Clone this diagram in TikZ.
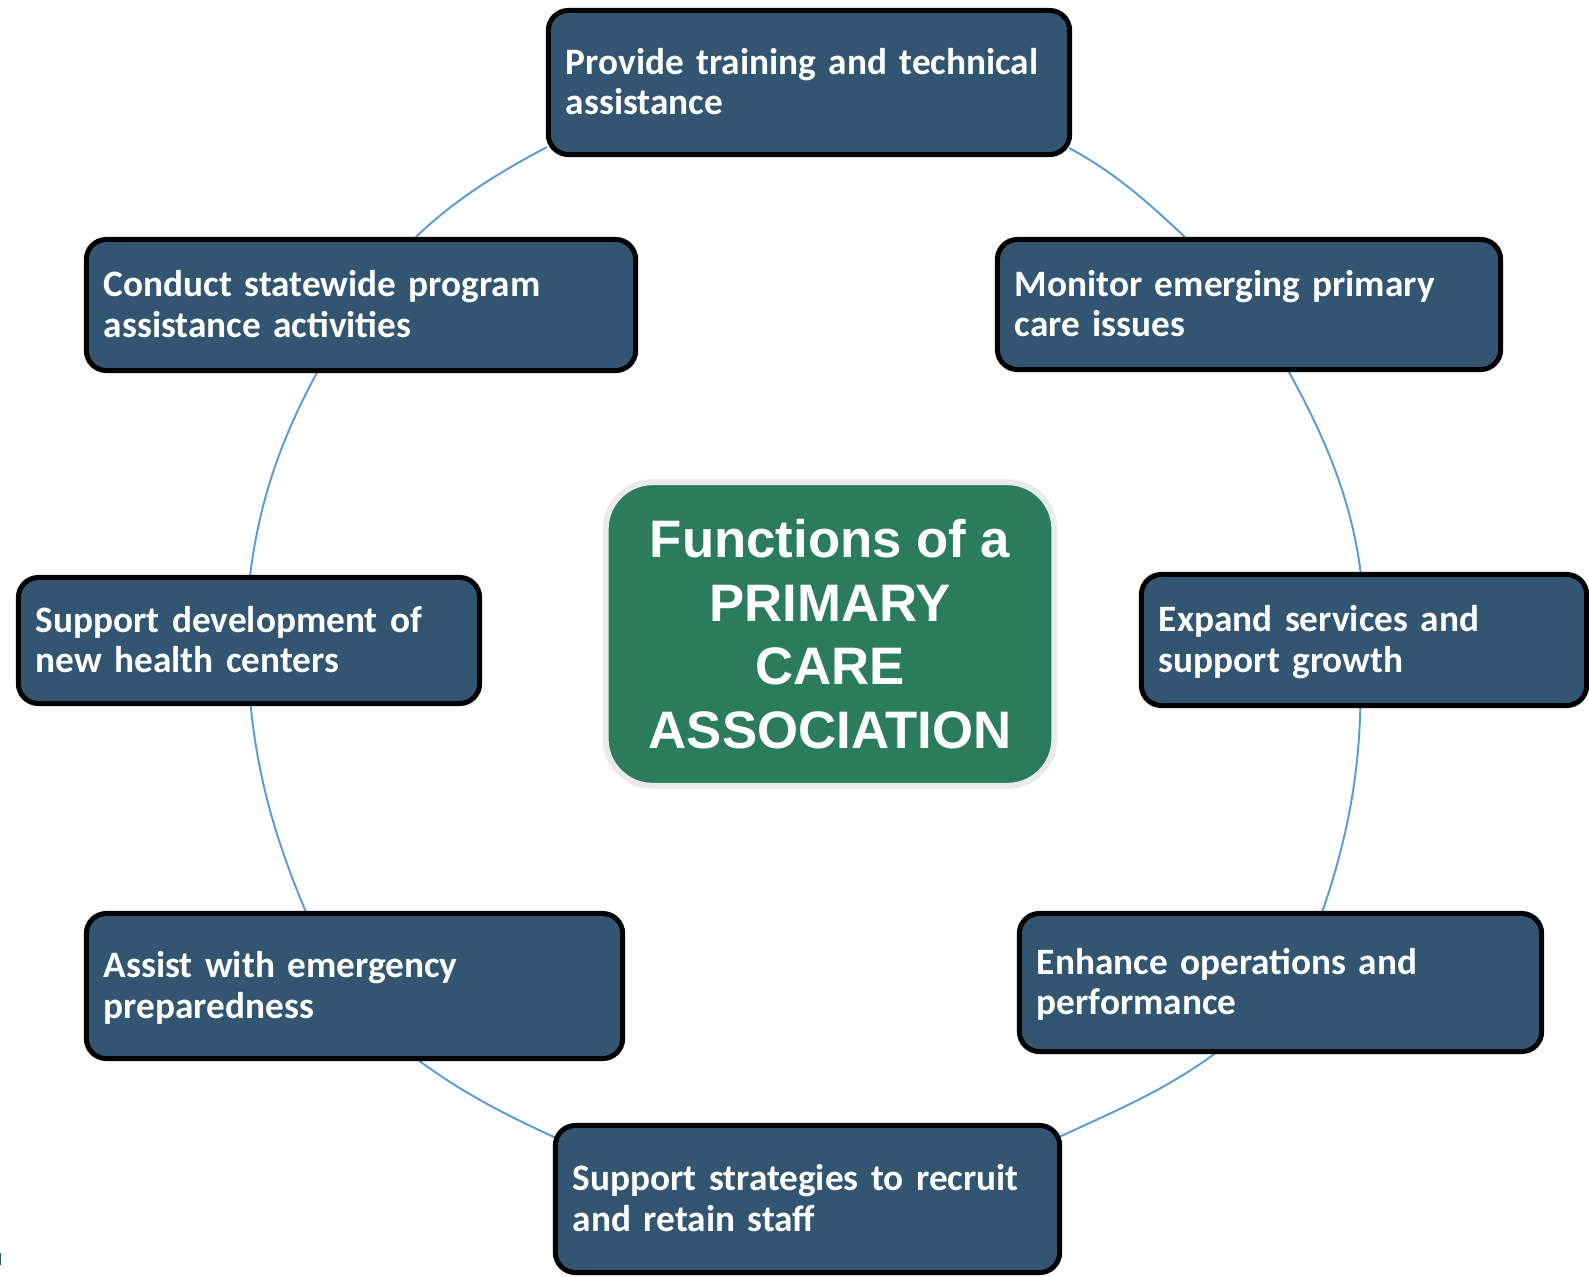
\documentclass[tikz,border=0pt]{standalone}
\usepackage{fontspec}
\setmainfont{Carlito}
\newfontfamily\boxfam{Carlito}
\newfontfamily\ctrfont{Liberation Sans}
\usetikzlibrary{calc}
\definecolor{boxblue}{HTML}{325672}
\definecolor{ctrgreen}{HTML}{2B7C5E}
\definecolor{ringblue}{HTML}{5B9BD5}
\definecolor{ctredge}{HTML}{EAEAEA}
\pgfdeclarelayer{bg}
\pgfsetlayers{bg,main}
\newcommand\boxfont{\boxfam\bfseries\fontsize{10.6}{11.4}\selectfont\spaceskip=0.19em plus 0.05em minus 0.05em\relax}
\newcommand\ctrtext{\ctrfont\bfseries\fontsize{15}{18.1}\selectfont}
\newcommand\bxtop{\rule{0pt}{9pt}}
\newcommand\bxbot{\rule[-2.2pt]{0pt}{2.2pt}}
\begin{document}
\begin{tikzpicture}[x=0.01cm,y=-0.01cm,
  fnbox/.style n args={3}{draw=black, line width=0.05cm, fill=boxblue,
    rounded corners=0.2cm, text=white, font=\boxfont, align=left,
    inner xsep=0.175cm, inner ysep=0pt, minimum width=#1cm,
    minimum height=#2cm, text width=#3cm,
    execute at begin node=\bxtop, execute at end node=\bxbot},
  ctrbox/.style={draw=ctredge, line width=0.06cm, fill=ctrgreen,
    rounded corners=0.47cm, text=white, font=\ctrtext, align=center,
    inner sep=0pt, minimum width=4.485cm, minimum height=3.035cm,
    execute at begin node=\rule{0pt}{12.2pt}},
  ringline/.style={draw=ringblue, line width=0.55pt, looseness=0.9}]
\useasboundingbox (0,0) rectangle (1589,1276);
\clip (0,0) rectangle (1589,1276);

\node[ctrbox] (pca) at (830,634) {Functions of a\\PRIMARY\\CARE\\ASSOCIATION};

\node[fnbox={5.21}{1.44}{4.86}] (top) at (809,82.5) {Provide training and technical\\assistance};
\node[fnbox={5.49}{1.31}{5.14}] (conduct) at (361,305) {Conduct statewide program\\assistance activities};
\node[fnbox={5.03}{1.30}{4.68}] (monitor) at (1249,304.5) {Monitor emerging primary\\care issues};
\node[fnbox={4.61}{1.26}{4.26}] (newhc) at (249,640.5) {Support development of\\new health centers};
\node[fnbox={4.45}{1.31}{4.10}] (expand) at (1364,640) {Expand services and\\support growth};
\node[fnbox={5.36}{1.45}{5.01}] (assist) at (354.5,986) {Assist with emergency\\preparedness};
\node[fnbox={5.22}{1.38}{4.87}] (enhance) at (1280.5,982.5) {Enhance operations and\\performance};
\node[fnbox={5.04}{1.47}{4.69}] (recruit) at (807.5,1199) {Support strategies to recruit\\and retain staff};

\fill[boxblue] (0,1253) rectangle (1.5,1265);

\begin{pgfonlayer}{bg}
\draw[ringline] ($(top.south east)+(-3,-9)$) to[out=-28.2,in=136.6] ($(monitor.north west)+(192,2)$);
\draw[ringline] ($(monitor.south west)+(293,-2)$) to[out=-61.1,in=97] ($(expand.north west)+(222,2.5)$);
\draw[ringline] ($(expand.south west)+(221.5,-2.5)$) to[out=-91.2,in=71] ($(enhance.north west)+(305,2)$);
\draw[ringline] ($(enhance.south west)+(200,-2)$) to[out=-143.3,in=24.8] ($(recruit.north east)+(-2,13.5)$);
\draw[ringline] ($(assist.south west)+(333,-2)$) to[out=-36.7,in=155.2] ($(recruit.north west)+(2,14.5)$);
\draw[ringline] ($(newhc.south west)+(234.5,-3.5)$) to[out=-84.6,in=112.9] ($(assist.north west)+(222.5,2)$);
\draw[ringline] ($(conduct.south west)+(234,-2)$) to[out=-118.6,in=83.3] ($(newhc.north west)+(234,2.5)$);
\draw[ringline] ($(conduct.north west)+(330,2)$) to[out=44,in=208.1] ($(top.south west)+(1,-10)$);
\end{pgfonlayer}
\end{tikzpicture}
\end{document}
